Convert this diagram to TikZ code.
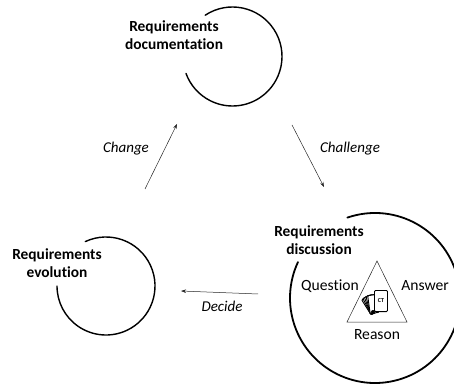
\documentclass[tikz,border=0pt]{standalone}
\usepackage{fontspec}
\setmainfont[Ligatures=CommonOff]{Carlito}
\usetikzlibrary{arrows.meta}
\tikzset{
  loopline/.style={line width=1.4pt,black,line cap=round},
  flow/.style={line width=0.5pt,black!85,-{Stealth[length=5pt,width=3.5pt]}},
  title/.style={font=\fontsize{15.4}{18}\selectfont\bfseries,align=center,inner sep=0pt},
  rel/.style={font=\fontsize{15.6}{17}\selectfont,inner sep=0pt},
  act/.style={font=\fontsize{15}{17}\selectfont\itshape,inner sep=0pt},
  card/.style={draw=black,fill=white,line width=0.9pt,rounded corners=1pt,inner sep=0pt}
}
\begin{document}
\begin{tikzpicture}[x=1pt,y=1pt]
\clip (0,0) rectangle (454,385);
% loops
\draw[loopline] (232.5,328.5) ++(123.5:49.5) arc[start angle=123.5,end angle=-160,radius=49.5pt];
\draw[loopline] (106,99) ++(115:49) arc[start angle=115,end angle=-180,radius=49pt];
\draw[loopline,line width=1.8pt] (375,87) ++(109:85) arc[start angle=109,end angle=-205,radius=85pt];
% titles
\node[title] (doc) at (174,350) {Requirements\\documentation};
\node[title] (evo) at (57,122) {Requirements\\evolution};
\node[title] (dis) at (319,145) {Requirements\\discussion};
% arrows
\coordinate (a1) at (145,196);
\coordinate (a2) at (177,261);
\coordinate (b1) at (292,260);
\coordinate (b2) at (324,198);
\coordinate (c1) at (258,91);
\coordinate (c2) at (181,94);
\draw[flow] (a1) -- (a2);
\draw[flow] (b1) -- (b2);
\draw[flow] (c1) -- (c2);
\node[act] (change) at (126,236) {Change};
\node[act] (challenge) at (350,236) {Challenge};
\node[act] (decide) at (222,79) {Decide};
% triangle
\coordinate (t1) at (377,124);
\coordinate (t2) at (347,63);
\coordinate (t3) at (407,63);
\draw[line width=0.5pt,black!85] (t1) -- (t2) -- (t3) -- cycle;
\node[rel] (q) at (330,99) {Question};
\node[rel] (an) at (425,99) {Answer};
\node[rel] (re) at (377,50) {Reason};
% cards
\foreach \a in {32,26,20,14,8}{
  \draw[card,rotate around={\a:(374,73)}] (370,72) rectangle (379,90);
}
\fill (373,73) circle (2pt);
\node[card,minimum width=13pt,minimum height=21pt,anchor=south west] (front) at (374,73) {};
\node[font=\fontsize{6}{6}\selectfont\bfseries,inner sep=0pt] (ct) at (front.center) {CT};
\end{tikzpicture}
\end{document}
